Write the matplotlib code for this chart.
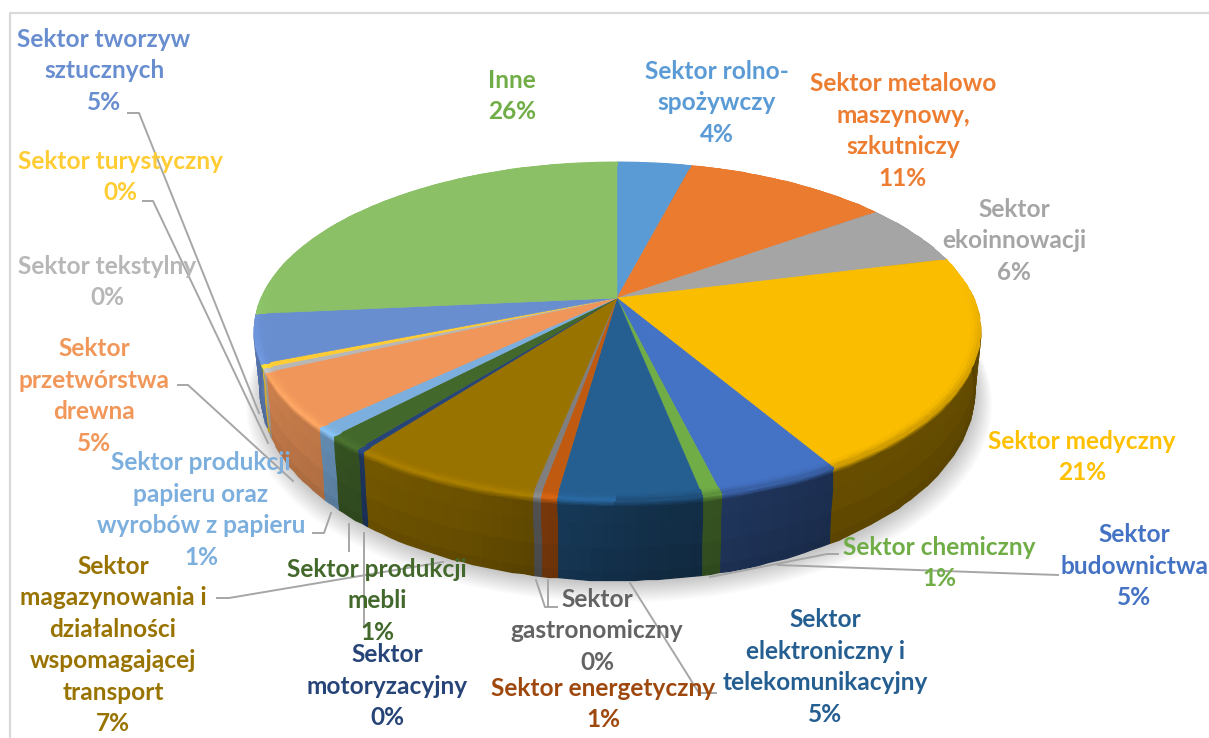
#!/usr/bin/env python3

import numpy as np
import matplotlib
matplotlib.use('Agg')
import matplotlib.pyplot as plt
from matplotlib.colors import to_rgb

plt.rcParams['font.family'] = ['Lato', 'DejaVu Sans']

#-----------
# DATA
#-----------
# clockwise from 12 o'clock
labels = [
  'Sektor rolno-\nspożywczy\n4%',
  'Sektor metalowo\nmaszynowy,\nszkutniczy\n11%',
  'Sektor\nekoinnowacji\n6%',
  'Sektor medyczny\n21%',
  'Sektor\nbudownictwa\n5%',
  'Sektor chemiczny\n1%',
  'Sektor\nelektroniczny i\ntelekomunikacyjny\n5%',
  'Sektor energetyczny\n1%',
  'Sektor\ngastronomiczny\n0%',
  'Sektor\nmagazynowania i\ndziałalności\nwspomagającej\ntransport\n7%',
  'Sektor\nmotoryzacyjny\n0%',
  'Sektor produkcji\nmebli\n1%',
  'Sektor produkcji\npapieru oraz\nwyrobów z papieru\n1%',
  'Sektor\nprzetwórstwa\ndrewna\n5%',
  'Sektor tekstylny\n0%',
  'Sektor turystyczny\n0%',
  'Sektor tworzyw\nsztucznych\n5%',
  'Inne\n26%',
]
values = [4.0, 11.0, 6.0, 20.6, 4.6, 0.7, 5.3, 0.6, 0.3, 7.2, 0.3, 1.4, 0.9, 5.2, 0.4, 0.4, 4.6, 26.5]
colors = ['#5B9BD5', '#EB7B2F', '#A5A5A5', '#FBBD00', '#4472C4', '#70AD47', '#255E91', '#C05A10', '#7F7F7F',
          '#997300', '#264478', '#43682B', '#7CAFDD', '#F0965A', '#B7B7B7', '#FFCD33', '#698ED0', '#8BC067']
text_colors = ['#5B9BD5', '#ED7D31', '#A5A5A5', '#FFC000', '#4472C4', '#70AD47', '#255E91', '#9E480E', '#636363',
               '#997300', '#264478', '#43682B', '#7CAFDD', '#F1975A', '#B7B7B7', '#FFCD33', '#698ED0', '#70AD47']
label_pos = [(717, 103), (903, 131), (1014, 241), (1082, 457), (1134, 566), (939, 563), (825, 667), (603, 704),
             (597, 631), (113, 645), (387, 686), (377, 601), (201, 510), (94, 396), (107, 282), (120, 177),
             (104, 71), (512, 96)]
leaders = [
  [(128, 113), (139, 113), (259, 413)],
  [(143, 201), (153, 201), (268, 443)],
  [(178, 385), (188, 385), (293, 481)],
  [(313, 533), (324, 533), (331, 513)],
  [(349, 524), (349, 551)],
  [(364, 533), (364, 627)],
  [(217, 598), (229, 598), (443, 562)],
  [(536, 580), (545, 607), (557, 607)],
  [(548, 580), (548, 606)],
  [(630, 583), (699, 693), (716, 693)],
  [(710, 577), (827, 554), (838, 554)],
  [(778, 565), (1000, 573), (1058, 575)],
]

#-----------
# GEOMETRY
#-----------
CX, CY = 617, 298
K = 0.195
TOP_A, TOP_B = 356, 162.6
BOT_A, BOT_B, BOT_CY = 350, 182, 354

def project(a, r=1.0, plane='top'):
  x0, y0 = r * np.sin(a), -r * np.cos(a)
  den = 1 - K * y0
  if plane == 'top':
    return CX + TOP_A * x0 / den, CY + TOP_B * y0 / den
  return CX + BOT_A * x0 / den, BOT_CY + BOT_B * y0 / den

def wall_factor(a):
  return np.interp(np.degrees(a), [90, 150, 175, 200, 245, 275], [.39, .41, .5, .7, .85, .85])

#-----------
# PLOT
#-----------
fig = plt.figure(figsize=(12.09, 7.38), dpi=100)
ax = fig.add_axes([0, 0, 1, 1])
ax.set_xlim(0, 1209)
ax.set_ylim(738, 0)
ax.axis('off')

# frame of the chart area
ax.plot([10, 10, 1209], [738, 13, 13], color='#D9D9D9', lw=1.6, zorder=1)

edges = np.radians(np.cumsum([0] + values) / np.sum(values) * 360)

# soft shadow under the pie
full = np.linspace(0, 2 * np.pi, 300)
for i in range(14):
  sx, sy = project(full, plane='bot')
  grow = 1 + i * 0.0035
  ax.fill(CX + (sx - CX) * grow + 2, BOT_CY + 3 + (sy - BOT_CY) * grow + i * 0.7,
    color='black', alpha=0.016, lw=0, zorder=2)

# side wall, then rim and top face
t = np.array([0, .02, .04, .06, .08, .1, .3, .6, .9, 1])
for start, end, color in zip(edges[:-1], edges[1:], colors):
  base = np.array(to_rgb(color))
  n = max(2, int((end - start) / np.radians(1.5)) + 2)
  a = np.linspace(start, end, n)
  tx, ty = project(a)
  bx, by = project(a, plane='bot')
  X = tx + np.outer(t, bx - tx)
  Y = ty + np.outer(t, by - ty)
  mid = (a[:-1] + a[1:]) / 2
  C = np.zeros((len(t) - 1, n - 1, 3))
  for j in range(len(t) - 1):
    tm = (t[j] + t[j + 1]) / 2
    for m, am in enumerate(mid):
      wall = base * wall_factor(am) * np.interp(tm, [.2, .6, 1], [1, .97, .88])
      rim = np.clip(base * (1.12 if am > np.pi else 0.9), 0, 1)
      w = np.interp(tm, [.01, .09], [1, 0])
      C[j, m] = rim * w + wall * (1 - w)
  ax.pcolormesh(X, Y, C, shading='flat', antialiased=True, edgecolors='face', linewidth=0.9, zorder=3)

for start, end, color in zip(edges[:-1], edges[1:], colors):
  a = np.linspace(start, end, max(2, int((end - start) / np.radians(1)) + 2))
  x, y = project(a)
  ax.fill(np.r_[CX, x], np.r_[CY, y], color=color, lw=0.4, zorder=4)
  # bevel near the front edge of the top face
  base = np.array(to_rgb(color))
  r = np.array([.975, .985, .993, 1.0])
  X = np.array([project(a, rr)[0] for rr in r])
  Y = np.array([project(a, rr)[1] for rr in r])
  mid = (a[:-1] + a[1:]) / 2
  C = np.zeros((len(r) - 1, len(a) - 1, 3))
  for j, w0 in enumerate([.15, .5, .9]):
    for m, am in enumerate(mid):
      vis = np.clip(-np.cos(am) + 0.1, 0, 0.6) / 0.6
      tone = np.clip(base * (1.12 if am > np.pi else 0.82), 0, 1)
      w = w0 * vis
      C[j, m] = tone * w + base * (1 - w)
  ax.pcolormesh(X, Y, C, shading='flat', antialiased=True, edgecolors='face', linewidth=0.7, zorder=5)

for pts in leaders:
  xs, ys = zip(*pts)
  ax.plot(xs, ys, color='#A6A6A6', lw=1.4, zorder=6, solid_joinstyle='round')

for label, (x, y), color in zip(labels, label_pos, text_colors):
  ax.text(x, y, label, color=color, ha='center', va='center', fontsize=17.6,
    fontweight='bold', linespacing=1.44, zorder=7, multialignment='center')

fig.savefig('out.png', dpi=100)
